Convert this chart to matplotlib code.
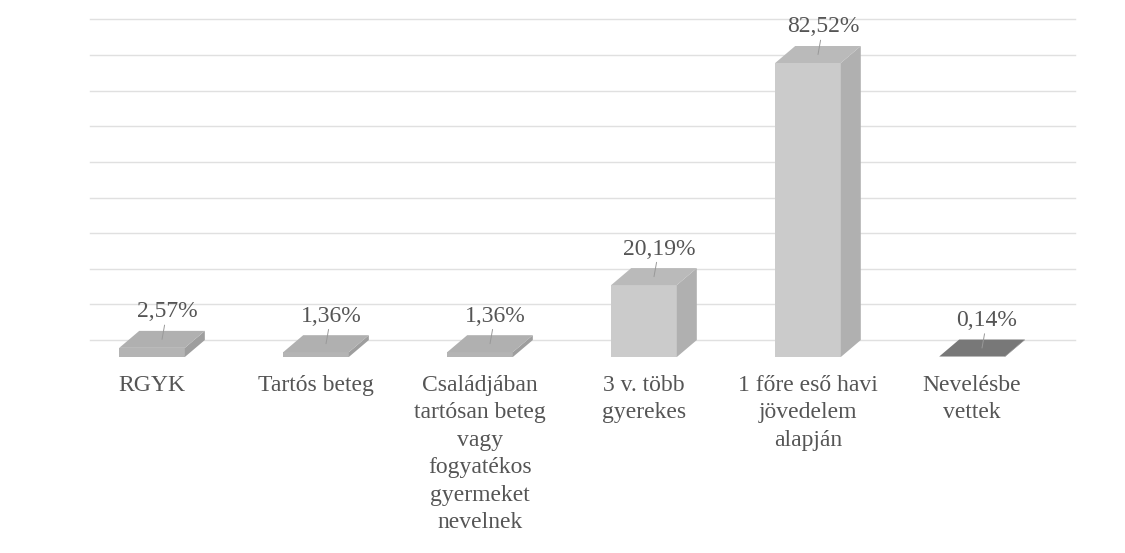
import matplotlib
matplotlib.use("Agg")
import matplotlib.pyplot as plt
from matplotlib.patches import Polygon

categories = ["RGYK", "Tartós beteg",
              "Családjában\ntartósan beteg\nvagy\nfogyatékos\ngyermeket\nnevelnek",
              "3 v. több\ngyerekes", "1 főre eső havi\njövedelem\nalapján",
              "Nevelésbe\nvettek"]
values = [2.57, 1.36, 1.36, 20.19, 82.52, 0.14]
value_labels = ["2,57%", "1,36%", "1,36%", "20,19%", "82,52%", "0,14%"]
grid_values = [0, 10, 20, 30, 40, 50, 60, 70, 80, 90]

front_colors = ["#b4b4b4", "#b4b4b4", "#b4b4b4", "#cbcbcb", "#cbcbcb", "#6f6f6f"]
side_colors = ["#9e9e9e", "#9e9e9e", "#9e9e9e", "#b0b0b0", "#b0b0b0", "#5e5e5e"]
top_colors = ["#b0b0b0", "#b0b0b0", "#b0b0b0", "#bababa", "#bababa", "#787878"]

plt.rcParams['font.family'] = ['Liberation Serif', 'DejaVu Serif']
text_color = "#555555"

fig = plt.figure(figsize=(11.25, 5.53), dpi=100)
ax = fig.add_axes([0, 0, 1, 1])
ax.set_xlim(-0.927, 5.933)
ax.set_ylim(-55.0, 100.2)
ax.axis("off")

w = 0.40      # bar width in category units
dx = 0.122    # depth offset (x)
dy = 4.77     # depth offset (y, in %)

# back-wall gridlines
x_left = -0.378
x_right = 5.63
for g in grid_values:
    ax.plot([x_left, x_right], [g + dy, g + dy], color="#e0e0e0", lw=1.0, zorder=0)

for i, v in enumerate(values):
    # front face
    ax.bar(i, v, width=w, color=front_colors[i], edgecolor="none", zorder=2)
    # side face
    side = Polygon([(i + w / 2, 0), (i + w / 2 + dx, dy), (i + w / 2 + dx, v + dy), (i + w / 2, v)],
                   closed=True, facecolor=side_colors[i], edgecolor="none", zorder=2)
    ax.add_patch(side)
    # top face
    top = Polygon([(i - w / 2, v), (i + w / 2, v), (i + w / 2 + dx, v + dy), (i - w / 2 + dx, v + dy)],
                  closed=True, facecolor=top_colors[i], edgecolor="none", zorder=3)
    ax.add_patch(top)
    # data label with leader
    ax.annotate(value_labels[i], xy=(i + dx / 2, v + dy / 2),
                xytext=(i + dx / 2 + 0.03, v + dy + 2.4),
                ha="center", va="bottom", fontsize=17, color=text_color,
                arrowprops=dict(arrowstyle="-", color="#999999", lw=0.7,
                                shrinkA=0, shrinkB=0), zorder=4)
    # category label
    ax.annotate(categories[i], xy=(i, 0), xytext=(0, -13), textcoords="offset points",
                ha="center", va="top", fontsize=17, color=text_color,
                linespacing=1.4)

fig.savefig("out.png", dpi=100, facecolor="white")
